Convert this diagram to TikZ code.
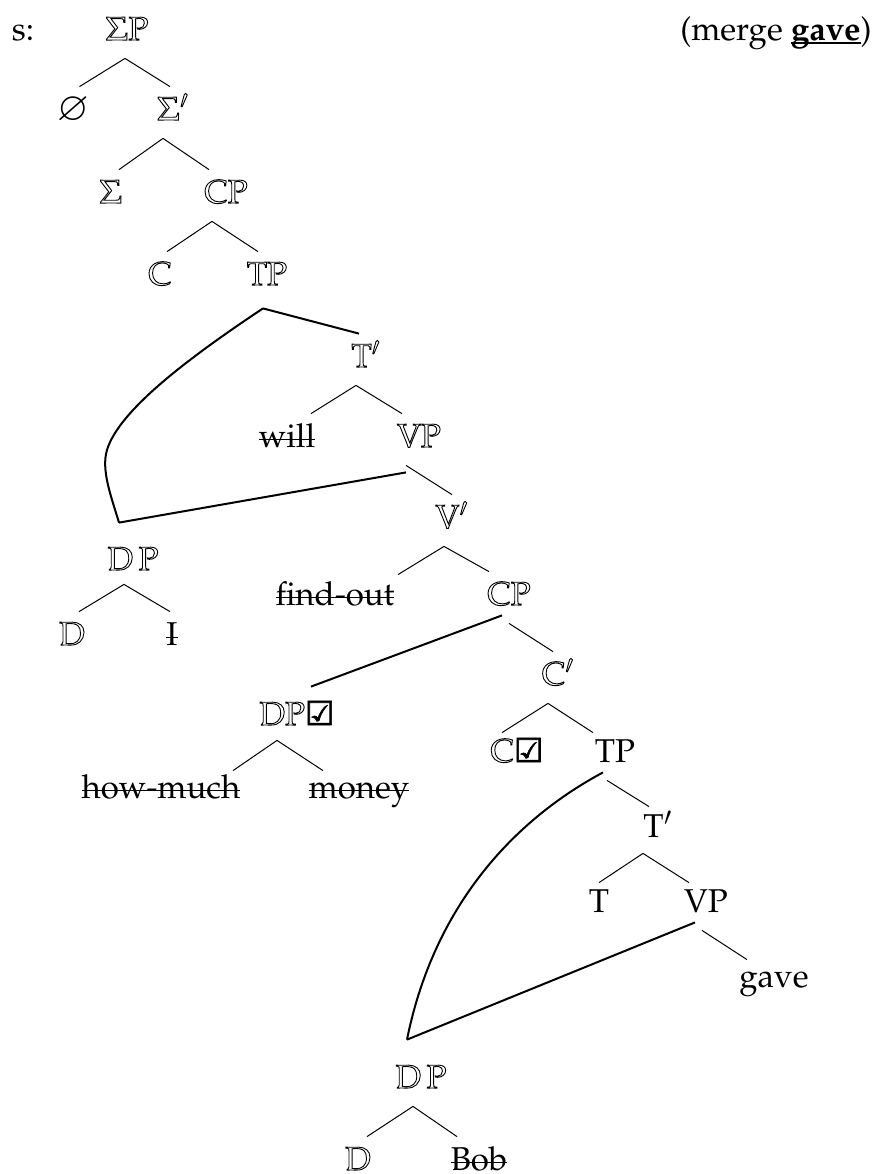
\documentclass[tikz,border=0pt]{standalone}
\usepackage[no-math]{fontspec}
\newfontfamily\checkfont{DejaVu Sans}[FakeBold=2]
\usepackage[T1]{fontenc}
\usepackage{mathpazo}
\usepackage{amssymb}
\usetikzlibrary{positioning}
\newsavebox{\wordbox}
\newcommand{\hollow}[1]{\special{pdf:literal direct 1 Tr 0.45 w}#1\special{pdf:literal direct 0 Tr}}
\newcommand{\chk}{{\checkfont ☑}}
\newcommand{\struck}[1]{\sbox{\wordbox}{#1}\rlap{\rule[0.22em]{\wd\wordbox}{0.6pt}}\usebox{\wordbox}}
\newcommand{\uln}[1]{\sbox{\wordbox}{#1}\rlap{\rule[-0.13em]{\wd\wordbox}{0.9pt}}\usebox{\wordbox}}

\begin{document}
\begin{tikzpicture}[x=0.5pt, y=-0.5pt, on grid,
  cat/.style={inner sep=0pt, text height=16.5pt, text depth=9pt, font=\fontsize{16.5}{20}\selectfont},
  branch/.style={line width=0.5pt},
  move/.style={line width=1pt}
]
\useasboundingbox (0,0) rectangle (875,1174);
% upper tree
\node[cat] (sp) at (127,32.5) {\hollow{$\Sigma$P}};
\node[cat, left=52pt of sp] (s) {s:};
\node[cat, right=324.5pt of sp] (merge) {(merge \uln{\textbf{gave}})};
\node[cat, below left=40pt and 26.75pt of sp] (empty) {\fontsize{19.5}{20}\selectfont$\varnothing$};
\node[cat, below right=40pt and 23pt of sp] (sbar) {\hollow{$\Sigma'$}};
\node[cat, below left=41.5pt and 31pt of sbar] (sig) {\hollow{$\Sigma$}};
\node[cat, below right=41.5pt and 26.5pt of sbar] (cp1) {\hollow{CP}};
\node[cat, below left=41pt and 33pt of cp1] (c1) {\hollow{C}};
\node[cat, below right=41pt and 20.5pt of cp1] (tp1) {\hollow{TP}};
\node[cat, below right=41pt and 49.5pt of tp1] (tbar1) {\hollow{T$'$}};
\node[cat, below left=40pt and 39.5pt of tbar1] (will) {\struck{will}};
\node[cat, below right=40pt and 26.5pt of tbar1] (vp1) {\hollow{VP}};
\node[cat, below right=40.5pt and 16.5pt of vp1] (vbar) {\hollow{V$'$}};
\node[cat, below left=38.5pt and 58.5pt of vbar] (findout) {\struck{find-out}};
\node[cat, below right=38.5pt and 28.5pt of vbar] (cp2) {\hollow{CP}};
\node[cat, below left=142.5pt and 67pt of tp1] (dp1) {\hollow{D\,P}};
\node[cat, below left=37.5pt and 30.5pt of dp1] (d1) {\hollow{D}};
\node[cat, below right=37.5pt and 19.5pt of dp1] (i1) {\struck{I}};
% lower tree
\node[cat, below left=60pt and 106pt of cp2] (dpq) {\hollow{DP}\chk};
\node[cat, below right=40pt and 24.5pt of cp2] (cbar) {\hollow{C$'$}};
\node[cat, below left=36.5pt and 68pt of dpq] (howmuch) {\struck{how-much}};
\node[cat, below right=36.5pt and 31pt of dpq] (money) {\struck{money}};
\node[cat, below left=38.5pt and 20.5pt of cbar] (ccheck) {\hollow{C}\chk};
\node[cat, below right=38.5pt and 28.5pt of cbar] (tp2) {TP};
\node[cat, below right=37.5pt and 21.5pt of tp2] (tbar2) {T$'$};
\node[cat, below left=37.5pt and 29.5pt of tbar2] (t) {T};
\node[cat, below right=37.5pt and 24pt of tbar2] (vp2) {VP};
\node[cat, below right=37.5pt and 34pt of vp2] (gave) {gave};
\node[cat, below left=163pt and 97pt of tp2] (dp3) {\hollow{D\,P}};
\node[cat, text depth=0pt, below left=36.5pt and 31.5pt of dp3] (d3) {\hollow{D}};
\node[cat, text depth=0pt, below right=36.5pt and 29pt of dp3] (bob) {\struck{Bob}};
% branches
\draw[branch] ([xshift=-1pt]sp.south) -- ([xshift=3pt]empty.north);
\draw[branch] ([xshift=-1pt]sp.south) -- ([xshift=-1.5pt]sbar.north);
\draw[branch] ([xshift=-5pt]sbar.south) -- ([xshift=4pt]sig.north);
\draw[branch] ([xshift=-5pt]sbar.south) -- ([xshift=-8.5pt]cp1.north);
\draw[branch] ([xshift=-7pt]cp1.south) -- ([xshift=3.5pt]c1.north);
\draw[branch] ([xshift=-7pt]cp1.south) -- ([xshift=-4.5pt]tp1.north);
\draw[move] ([xshift=-2pt,yshift=-2.5pt]tp1.south) -- ([xshift=-3.5pt]tbar1.north);
\draw[move] ([xshift=-2pt,yshift=-2.5pt]tp1.south) .. controls (190,357) and (119,410) .. (107,450)
  .. controls (101,470) and (111,496) .. ([xshift=-7pt,yshift=7pt]dp1.north);
\draw[move] ([xshift=-6.5pt,yshift=-3.5pt]vp1.south) -- ([xshift=-7pt,yshift=7pt]dp1.north);
\draw[branch] ([xshift=-5pt]tbar1.south) -- ([xshift=12pt]will.north);
\draw[branch] ([xshift=-5pt]tbar1.south) -- ([xshift=-8.5pt]vp1.north);
\draw[branch] ([xshift=-6.5pt]vp1.south) -- (vbar.north);
\draw[branch] ([xshift=-4.5pt,yshift=2pt]dp1.south) -- ([xshift=3.5pt]d1.north);
\draw[branch] ([xshift=-4.5pt,yshift=2pt]dp1.south) -- ([xshift=-1pt]i1.north);
\draw[branch] ([xshift=-4pt]vbar.south) -- ([xshift=31.5pt,yshift=-1.5pt]findout.north);
\draw[branch] ([xshift=-4pt]vbar.south) -- ([xshift=-10pt]cp2.north);
\draw[move] ([xshift=-3.5pt,yshift=4pt]cp2.south) -- ([xshift=7pt,yshift=2.5pt]dpq.north);
\draw[branch] (cp2.south) -- ([xshift=-2.5pt]cbar.north);
\draw[branch] ([xshift=-10pt,yshift=1.5pt]dpq.south) -- ([xshift=36pt,yshift=-3pt]howmuch.north);
\draw[branch] ([xshift=-10pt,yshift=1.5pt]dpq.south) -- ([xshift=-18pt,yshift=-3pt]money.north);
\draw[branch] ([xshift=-5pt]cbar.south) -- ([xshift=-7.5pt,yshift=-2pt]ccheck.north);
\draw[branch] ([xshift=-5pt]cbar.south) -- ([xshift=-11pt,yshift=-2pt]tp2.north);
\draw[branch] ([xshift=-4pt]tp2.south) -- ([xshift=-4.5pt,yshift=-1.5pt]tbar2.north);
\draw[move] ([xshift=-6pt,yshift=4pt]tp2.south) .. controls (505,825) and (432,915) .. ([xshift=-7pt,yshift=7.5pt]dp3.north);
\draw[move] ([xshift=-5.5pt,yshift=4pt]vp2.south) -- ([xshift=-7pt,yshift=7.5pt]dp3.north);
\draw[branch] ([xshift=-7.5pt,yshift=1pt]tbar2.south) -- ([yshift=-2pt]t.north);
\draw[branch] ([xshift=-7.5pt,yshift=1pt]tbar2.south) -- ([xshift=-8.5pt,yshift=-2pt]vp2.north);
\draw[branch] ([xshift=-2pt]vp2.south) -- ([xshift=-13.5pt,yshift=-3pt]gave.north);
\draw[branch] ([xshift=-4pt]dp3.south) -- ([xshift=4.5pt]d3.north);
\draw[branch] ([xshift=-4pt]dp3.south) -- ([xshift=-11pt]bob.north);
\end{tikzpicture}
\end{document}
